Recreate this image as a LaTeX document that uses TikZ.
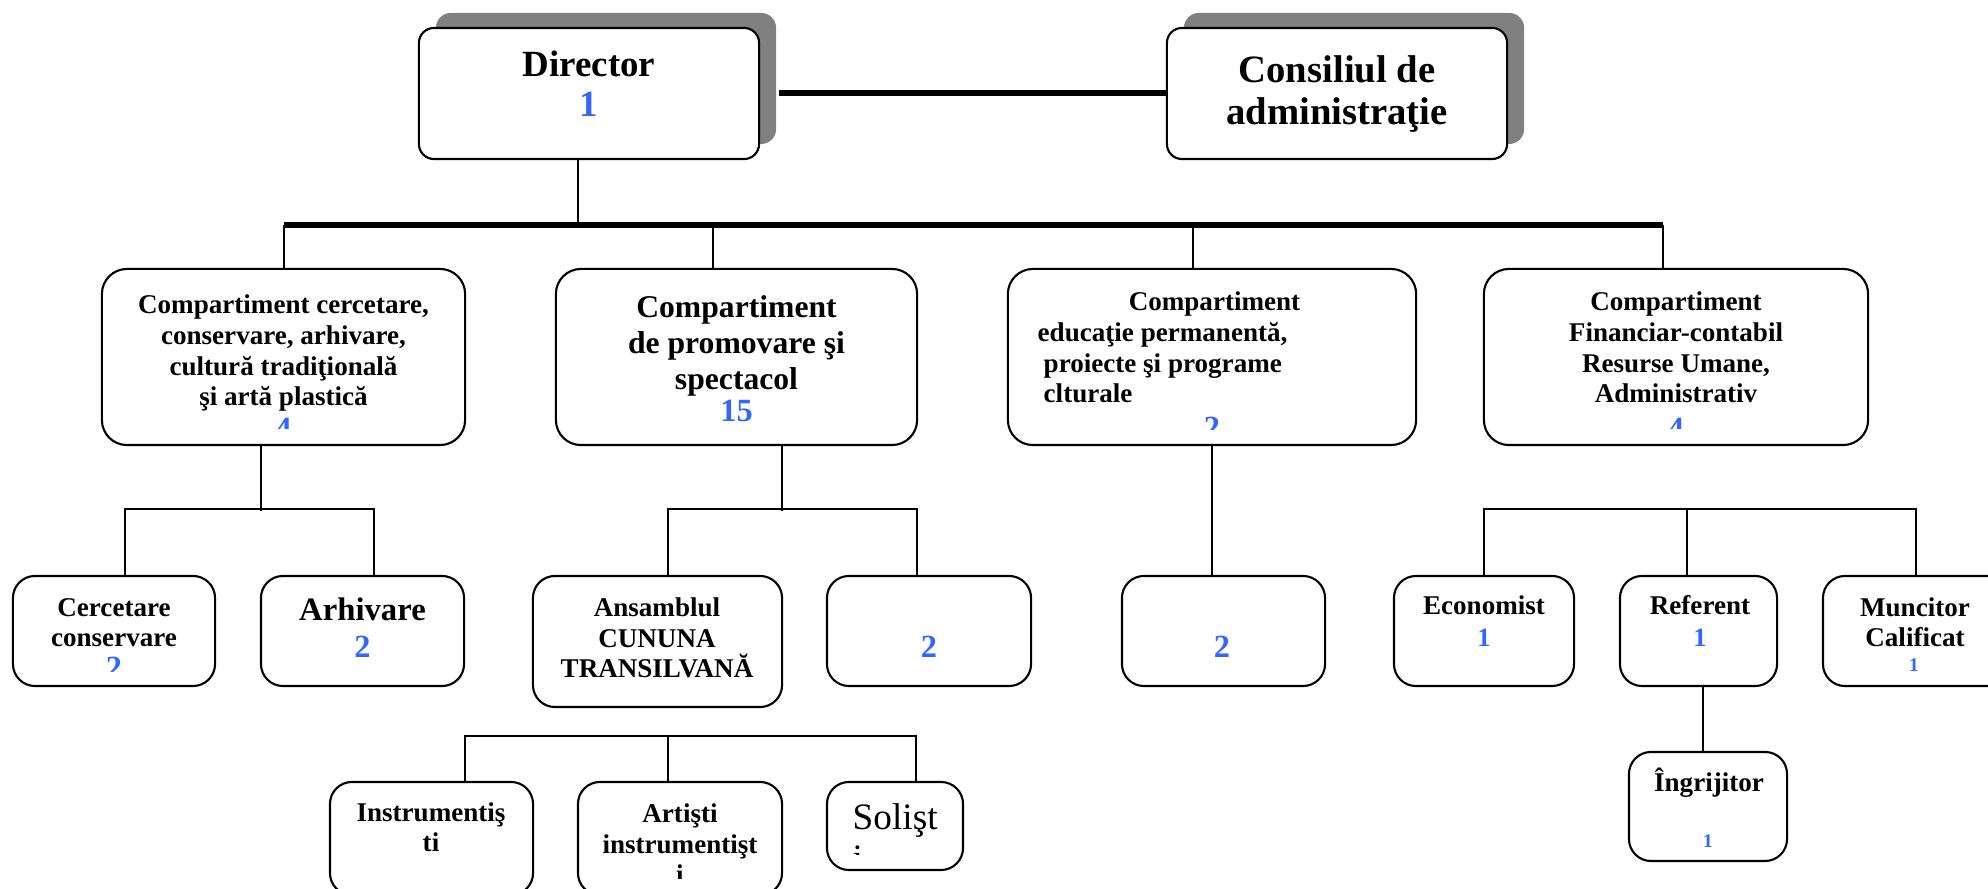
\documentclass[tikz,border=0pt]{standalone}
\usepackage{fontspec}
\setmainfont{Liberation Serif}
\usetikzlibrary{shadows}
\definecolor{numblue}{RGB}{51,102,255}
\tikzset{
  org box/.style={draw, line width=0.6pt, rounded corners=0.22cm, inner sep=0pt},
  head box/.style={org box, fill=white, rounded corners=0.15cm, minimum width=3.4cm, minimum height=1.31cm,
    drop shadow={shadow xshift=0.17cm, shadow yshift=0.15cm, fill=black!50, opacity=1}},
  dept box/.style={org box, rounded corners=0.25cm, minimum height=1.76cm},
  unit box/.style={org box, minimum height=1.1cm},
  org text/.style={inner sep=0pt, align=center, font=\bfseries\fontsize{7.7}{8.8}\selectfont},
  org num/.style={inner sep=0pt, text=numblue, font=\bfseries\fontsize{9.2}{10}\selectfont},
  small num/.style={org num, font=\bfseries\fontsize{7.5}{8}\selectfont},
  tiny num/.style={org num, font=\bfseries\fontsize{5.5}{6}\selectfont},
  thin link/.style={line width=0.6pt},
  thick link/.style={line width=1.7pt},
}

\begin{document}
\begin{tikzpicture}[x=0.01cm, y=-0.01cm]
\useasboundingbox (0,0) rectangle (1988,889);

% conducere
\node [head box] (dir) at (589, 93.5) {};
\node [head box] (cons) at (1337, 93.5) {};
\node [anchor=base, inner sep=0pt, align=center, font=\bfseries\fontsize{10.5}{11.4}\selectfont] (dir txt) at (589, 117) {Director\\\textcolor{numblue}{1}};
\node [anchor=base, inner sep=0pt, align=center, font=\bfseries\fontsize{11}{12.2}\selectfont] (cons txt) at (1337, 125) {Consiliul de\\administraţie};
\draw [thick link] ([xshift=0.19cm]dir.east) -- (cons.west);

% bara principala
\coordinate (bus left) at (284, 225);
\coordinate (bus right) at (1663, 225);
\draw [thick link] (bus left) -- (bus right);
\draw [thin link] ([xshift=-0.11cm]dir.south) -- ([xshift=-0.11cm]dir.south |- bus left);

% compartimente
\node [dept box, minimum width=3.63cm] (c1) at (283.5, 357) {};
\node [dept box, minimum width=3.61cm] (c2) at (736.5, 357) {};
\node [dept box, minimum width=4.08cm] (c3) at (1212, 357) {};
\node [dept box, minimum width=3.84cm] (c4) at (1676, 357) {};
\draw [thin link] (bus left) -- (bus left |- c1.north);
\draw [thin link] ([xshift=-0.235cm]c2.north) -- ([xshift=-0.235cm]c2.north |- bus left);
\draw [thin link] ([xshift=-0.19cm]c3.north) -- ([xshift=-0.19cm]c3.north |- bus left);
\draw [thin link] (bus right) -- (bus right |- c4.north);

\node [org text, anchor=base] (c1 txt) at (283.5, 406) {Compartiment cercetare,\\conservare, arhivare,\\cultură tradiţională\\şi artă plastică};
\node [org text, anchor=base, font=\bfseries\fontsize{9}{10.3}\selectfont] (c2 txt) at (736.5, 390) {Compartiment\\de promovare şi\\spectacol};
\node [org num, anchor=base] (c2 num) at (736.5, 422) {15};
\node [org text, anchor=base west, align=left] (c3 txt) at (1037, 403) {\hspace*{0.91cm}Compartiment\\educaţie permanentă,\\\hspace*{0.06cm}proiecte şi programe\\\hspace*{0.06cm}clturale};
\node [org text, anchor=base] (c4 txt) at (1676, 403) {Compartiment\\Financiar-contabil\\Resurse Umane,\\Administrativ};
\begin{scope}
\clip (c1.north west) rectangle ([yshift=0.18cm]c1.south east);
\node [org num, anchor=base] (c1 num) at (283.5, 440) {4};
\end{scope}
\begin{scope}
\clip (c3.north west) rectangle ([yshift=0.17cm]c3.south east);
\node [org num, anchor=base] (c3 num) at (1212, 439) {2};
\end{scope}
\begin{scope}
\clip (c4.north west) rectangle ([yshift=0.18cm]c4.south east);
\node [org num, anchor=base] (c4 num) at (1676, 440) {4};
\end{scope}

% birouri
\node [unit box, minimum width=2.02cm] (cerc) at (114, 631) {};
\node [unit box, minimum width=2.03cm] (arh) at (362.5, 631) {};
\node [unit box, minimum width=2.49cm, minimum height=1.31cm] (ans) at (657.5, 641.5) {};
\node [unit box, minimum width=2.04cm] (spec) at (929, 631) {};
\node [unit box, minimum width=2.03cm] (edu) at (1223.5, 631) {};
\node [unit box, minimum width=1.8cm] (econ) at (1484, 631) {};
\node [unit box, minimum width=1.57cm] (ref) at (1698.5, 631) {};
\node [unit box, minimum width=1.86cm] (munc) at (1916, 631) {};
\node [unit box, minimum width=1.58cm, minimum height=1.09cm] (ingr) at (1708, 806.5) {};
\node [unit box, minimum width=2.03cm, minimum height=1.13cm] (instr) at (431.5, 838.5) {};
\node [unit box, minimum width=2.04cm, minimum height=1.13cm] (art) at (680, 838.5) {};
\node [unit box, minimum width=1.36cm, minimum height=0.88cm] (sol) at (895, 826) {};

\draw [thin link] ([xshift=-0.225cm]c1.south) -- ++(0,65);
\draw [thin link] ([xshift=0.11cm]cerc.north) -- ++(0,-66) -| ([xshift=0.115cm]arh.north);
\draw [thin link] ([xshift=0.455cm]c2.south) -- ++(0,65);
\draw [thin link] ([xshift=0.105cm]ans.north) -- ++(0,-66) -| ([xshift=-0.12cm]spec.north);
\draw [thin link] (c3.south) -- (c3.south |- edu.north);
\draw [thin link] (econ.north) -- ++(0,-66) -| (munc.north);
\draw [thin link] ([xshift=-0.115cm]ref.north) -- ++(0,-66);
\draw [thin link] ([xshift=0.045cm]ref.south) -- ([xshift=0.045cm]ref.south |- ingr.north);
\draw [thin link] ([xshift=0.335cm]instr.north) -- ++(0,-45) -| ([xshift=0.21cm]sol.north);
\draw [thin link] ([xshift=-0.12cm]art.north) -- ++(0,-45);

\node [org text, anchor=base] (cerc txt) at (114, 647) {Cercetare\\conservare};
\begin{scope}
\clip (cerc.north west) rectangle ([yshift=0.16cm]cerc.south east);
\node [org num, anchor=base] (cerc num) at (114, 679) {2};
\end{scope}
\node [org text, anchor=base, font=\bfseries\fontsize{9.3}{10}\selectfont] (arh txt) at (362.5, 621) {Arhivare};
\node [org num, anchor=base] (arh num) at (362.5, 658) {2};
\node [org text, anchor=base] (ans txt) at (657, 678) {Ansamblul\\CUNUNA\\TRANSILVANĂ};
\node [org num, anchor=base] (spec num) at (929, 658) {2};
\node [org num, anchor=base] (edu num) at (1222, 658) {2};
\node [org text, anchor=base] (econ txt) at (1484, 615) {Economist};
\node [small num, anchor=base] (econ num) at (1484, 647) {1};
\node [org text, anchor=base] (ref txt) at (1700, 615) {Referent};
\node [small num, anchor=base] (ref num) at (1700, 647) {1};
\node [org text, anchor=base] (munc txt) at (1915, 647) {Muncitor\\Calificat};
\node [tiny num, anchor=base] (munc num) at (1914, 672) {1};
\node [org text, anchor=base] (ingr txt) at (1709, 792) {Îngrijitor};
\node [tiny num, anchor=base] (ingr num) at (1708, 847) {1};

% ansamblu
\node [org text, anchor=base] (instr txt) at (431, 852) {Instrumentiş\\ti};
\begin{scope}
\clip (art.north west) rectangle ([yshift=0.18cm]art.south east);
\node [org text, anchor=base] (art txt) at (680, 884) {Artişti\\instrumentişt\\i};
\end{scope}
\begin{scope}
\clip (sol.north west) rectangle ([yshift=0.17cm]sol.south east);
\node [anchor=base west, inner sep=0pt, align=left, font=\fontsize{10.6}{11.7}\selectfont] (sol txt) at (852, 871) {Solişt\\i};
\end{scope}
\end{tikzpicture}
\end{document}
